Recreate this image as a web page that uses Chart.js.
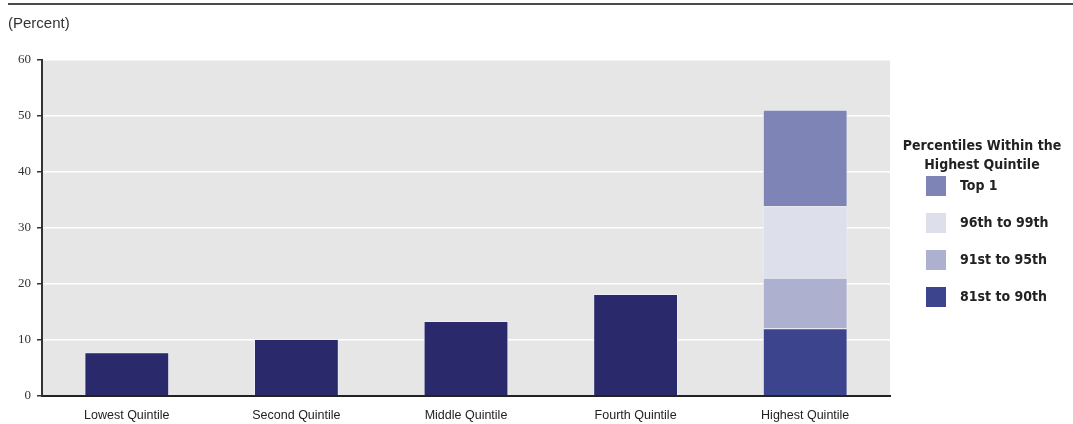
<!DOCTYPE html>
<html>
<head>
<meta charset="utf-8">
<script src="https://cdn.jsdelivr.net/npm/chart.js@4.4.0/dist/chart.umd.min.js"></script>
<style>
  html, body { margin: 0; padding: 0; background: #fff; }
  #wrap { position: relative; width: 1073px; height: 424px; }
  #topline { position: absolute; left: 8px; right: 0; top: 3px; height: 2px; background: #4a4a4a; }
  #unit { position: absolute; left: 8px; top: 14px; font: 15px "Liberation Sans", Arial, sans-serif; color: #333; }
</style>
</head>
<body>
<div id="wrap">
  <canvas id="grafico" width="1073" height="424"></canvas>
  <div id="topline"></div>
  <div id="unit">(Percent)</div>
</div>
<script>
// dados
const categorias = ["Lowest Quintile", "Second Quintile", "Middle Quintile", "Fourth Quintile", "Highest Quintile"];
const quintis = [7.8, 10.2, 13.4, 18.2, null];
const p81a90 = [null, null, null, null, 12.1];
const p91a95 = [null, null, null, null, 9.0];
const p96a99 = [null, null, null, null, 12.8];
const top1 = [null, null, null, null, 17.2];
const ticksY = [0, 10, 20, 30, 40, 50, 60];

const legendaTitulo = ["Percentiles Within the", "Highest Quintile"];

// fundo cinza da área do gráfico
const fundo = {
  id: "fundo",
  beforeDraw(chart) {
    const a = chart.chartArea, ctx = chart.ctx;
    ctx.save();
    ctx.fillStyle = "#e6e6e6";
    ctx.fillRect(a.left, a.top, a.right - a.left, a.bottom - a.top);
    ctx.restore();
  }
};

// legenda desenhada à mão à direita
const legenda = {
  id: "legenda",
  afterDraw(chart) {
    const ctx = chart.ctx;
    ctx.save();
    ctx.fillStyle = "#222";
    ctx.font = "bold 14px 'DejaVu Sans Condensed', 'DejaVu Sans', sans-serif";
    ctx.textAlign = "center";
    ctx.textBaseline = "middle";
    ctx.fillText(legendaTitulo[0], 982, 146, 170);
    ctx.fillText(legendaTitulo[1], 982, 165, 170);
    const itens = chart.data.datasets.filter(d => d.naLegenda).reverse();
    ctx.textAlign = "left";
    itens.forEach((d, i) => {
      const y = 186 + i * 37;
      ctx.fillStyle = d.backgroundColor;
      ctx.fillRect(926, y - 10, 20, 20);
      ctx.fillStyle = "#222";
      ctx.fillText(d.label, 960, y);
    });
    ctx.restore();
  }
};

const borda = "rgba(235,238,250,0.9)";

new Chart(document.getElementById("grafico"), {
  type: "bar",
  data: {
    labels: categorias,
    datasets: [
      { label: "Quintile", data: quintis, backgroundColor: "#29296b", borderColor: borda, borderWidth: 1 },
      { label: "81st to 90th", data: p81a90, backgroundColor: "#3c448e", borderColor: borda, borderWidth: 1, naLegenda: true },
      { label: "91st to 95th", data: p91a95, backgroundColor: "#aeb0cf", borderColor: borda, borderWidth: 1, naLegenda: true },
      { label: "96th to 99th", data: p96a99, backgroundColor: "#dde0ea", borderColor: borda, borderWidth: 1, naLegenda: true },
      { label: "Top 1", data: top1, backgroundColor: "#7e84b6", borderColor: borda, borderWidth: 1, naLegenda: true }
    ]
  },
  options: {
    responsive: false,
    animation: false,
    layout: { padding: { top: 60, right: 183, left: 0, bottom: 0 } },
    datasets: { bar: { barPercentage: 0.5, categoryPercentage: 1, grouped: false } },
    plugins: { legend: { display: false }, tooltip: { enabled: false } },
    scales: {
      x: {
        stacked: true,
        afterFit: s => { s.height = 28; },
        grid: { display: false },
        border: { display: true, color: "#222", width: 2 },
        ticks: { color: "#222", padding: 4, font: { family: "'Liberation Sans Narrow', 'Liberation Sans', Arial, sans-serif", size: 12.5 } }
      },
      y: {
        stacked: true,
        min: 0,
        max: 60,
        afterFit: s => { s.width = 42; },
        afterBuildTicks: s => { s.ticks = ticksY.map(v => ({ value: v })); },
        grid: { color: "#ffffff", lineWidth: 1.5, tickColor: "#333", tickLength: 5, drawTicks: true },
        border: { display: true, color: "#333", width: 2 },
        ticks: { color: "#333", padding: 6, font: { family: "'Liberation Serif', 'DejaVu Serif', serif", size: 13 } }
      }
    }
  },
  plugins: [fundo, legenda]
});
</script>
</body>
</html>
